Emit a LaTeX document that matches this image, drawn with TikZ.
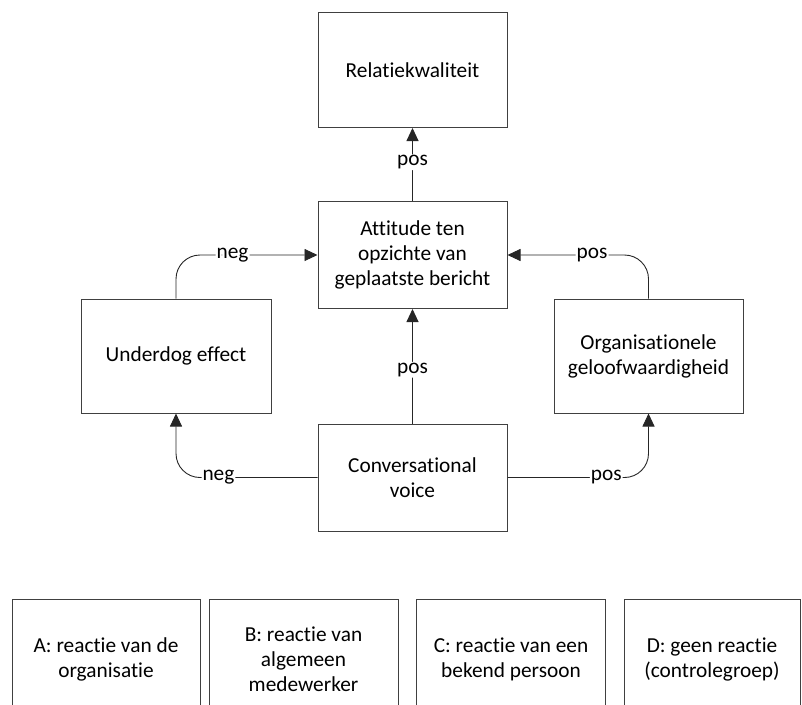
\documentclass[tikz,border=0pt]{standalone}
\usepackage{fontspec}
\setmainfont{Carlito}[Ligatures=NoCommon]
\usetikzlibrary{arrows.meta}
\begin{document}
\begin{tikzpicture}[x=1pt,y=-1pt,
  box/.style={draw=black!75,line width=1pt,fill=white,align=center,inner sep=0pt},
  conn/.style={draw=black!85,line width=0.9pt,rounded corners=24pt},
  arr/.style={conn,-{Triangle[length=13pt,width=12pt]}},
  lab/.style={fill=white,inner sep=1pt,font=\fontsize{21.33}{23}\selectfont}]
\useasboundingbox (0,0) rectangle (802,704);
\fontsize{21.33}{25}\selectfont
\node[box,minimum width=189pt,minimum height=115pt] (rel) at (412.5,70) {Relatiekwaliteit};
\node[box,minimum width=189pt,minimum height=107pt] (att) at (412.5,255) {Attitude ten\\opzichte van\\geplaatste bericht};
\node[box,minimum width=190pt,minimum height=114pt] (und) at (176,356) {Underdog effect};
\node[box,minimum width=189pt,minimum height=114pt] (org) at (648.5,356) {Organisationele\\geloofwaardigheid};
\node[box,minimum width=189pt,minimum height=107pt] (con) at (412.5,477.5) {Conversational\\voice};
\node[box,minimum width=188pt,minimum height=120pt] (a) at (106,659) {A: reactie van de\\organisatie};
\node[box,minimum width=189pt,minimum height=120pt] (b) at (303.5,659) {B: reactie van\\algemeen\\medewerker};
\node[box,minimum width=189pt,minimum height=120pt] (c) at (511,659) {C: reactie van een\\bekend persoon};
\node[box,minimum width=176pt,minimum height=120pt] (d) at (712,659) {D: geen reactie\\(controlegroep)};
\draw[arr] (att.north) -- node[lab,pos=0.53]{pos} (rel.south);
\draw[arr] (con.north) -- node[lab,pos=0.47]{pos} (att.south);
\draw[arr] (und.north) |- node[lab,pos=0.7]{neg} (att.west);
\draw[arr] (org.north) |- node[lab,pos=0.7]{pos} (att.east);
\draw[arr] (con.west) -| node[lab,pos=0.35]{neg} (und.south);
\draw[arr] (con.east) -| node[lab,pos=0.35]{pos} (org.south);
\end{tikzpicture}
\end{document}
